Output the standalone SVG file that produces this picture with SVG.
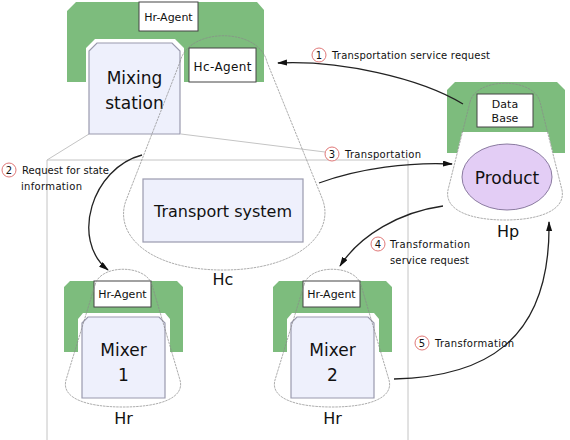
<svg xmlns="http://www.w3.org/2000/svg" width="570" height="440" viewBox="0 0 570 440">
<style>
text{font-family:"DejaVu Sans","Liberation Sans",sans-serif;fill:#111;}
.green{fill:#7dbc7d;stroke:none;}
.agent{fill:#fff;stroke:#444;stroke-width:1;}
.box{fill:#eef0fc;stroke:#9a9aae;stroke-width:1.2;}
.lens{fill:none;stroke:#8a8a8a;stroke-width:0.7;stroke-dasharray:2.5 0.8;}
.guide{fill:none;stroke:#c4c4c4;stroke-width:1;}
.conn{fill:none;stroke:#222;stroke-width:1.3;}
.num{fill:#fff;stroke:#e07878;stroke-width:1;}
.lbl{font-size:10px;}
.c{text-anchor:middle;}
</style>
<defs>
<marker id="arr" markerUnits="userSpaceOnUse" markerWidth="10" markerHeight="8" refX="9" refY="3" orient="auto">
<path d="M0,0 L10,3 L0,6 z" fill="#111"/>
</marker>
</defs>

<g id="guides">
<path class="guide" d="M47,440 L47,160 L408,160 L408,440"/>
<path class="guide" d="M89,134 L47,160"/>
<path class="guide" d="M181,134 L325,152"/>
</g>

<g id="node-mixing-station">
<path class="green" d="M67,11 L76,2 L257,2 L264,10 L264,82 L184,82 L184,48 L175,39 L95,39 L86,48 L86,82 L67,82 Z"/>
<rect class="agent" x="139" y="2" width="59" height="29"/>
<text x="168.5" y="21" font-size="11" class="c">Hr-Agent</text>
<path class="box" d="M89,134 L89,51 L97,43 L172,43 L180,51 L180,134 Z"/>
<text x="134.5" y="84" font-size="17" class="c">Mixing</text>
<text x="134.5" y="109" font-size="17" class="c">station</text>
</g>

<g id="node-transport-system">
<rect class="agent" x="189" y="48" width="67" height="34"/>
<text x="222.5" y="71" font-size="12" class="c" textLength="58">Hc-Agent</text>
<rect class="box" x="143" y="179" width="160" height="63" fill="#e6e6f8"/>
<text x="223" y="217" font-size="16" class="c">Transport system</text>
<path class="lens" d="M180,62 C188,27 259,27 267,62 L322,198 C336,232 300,270 223,270 C146,270 112,232 127,198 Z"/>
<text x="223" y="285" font-size="16" class="c">Hc</text>
</g>

<g id="node-product">
<path class="green" d="M447,90 L455,82 L557,82 L565,90 L565,153 L553,153 L548,132 L462,132 L457,153 L447,153 Z"/>
<rect class="agent" x="477" y="94" width="56" height="33"/>
<text x="505" y="108" font-size="11" class="c">Data</text>
<text x="505" y="122" font-size="11" class="c">Base</text>
<ellipse cx="507" cy="177" rx="45" ry="33" fill="#e3cdf5" stroke="#8a7aa0" stroke-width="1"/>
<text x="507" y="184" font-size="17" class="c">Product</text>
<path class="lens" d="M470,102 C476,77 534,77 540,102 L562,190 C566,210 540,220 505,220 C470,220 444,210 448,190 Z"/>
<text x="508" y="237" font-size="16" class="c">Hp</text>
</g>

<g id="node-mixer1">
<path class="green" d="M64,287 L70,281 L177,281 L183,287 L183,352 L170,352 L170,319 L165,313 L83,313 L78,319 L78,352 L64,352 Z"/>
<rect class="agent" x="94" y="281" width="57" height="26"/>
<text x="122.5" y="298" font-size="11" class="c">Hr-Agent</text>
<path class="box" d="M82,398 L82,323 L88,317 L159,317 L165,323 L165,398 Z"/>
<text x="123.5" y="356" font-size="17" class="c">Mixer</text>
<text x="123.5" y="381" font-size="17" class="c">1</text>
<path class="lens" d="M95,285 C100,264 146,264 152,285 L180,380 C185,398 160,407 123,407 C86,407 61,398 66,380 Z"/>
<text x="123.5" y="424" font-size="16" class="c">Hr</text>
</g>

<g id="node-mixer2">
<path class="green" d="M273,287 L279,281 L386,281 L392,287 L392,352 L379,352 L379,319 L374,313 L292,313 L287,319 L287,352 L273,352 Z"/>
<rect class="agent" x="303" y="281" width="57" height="26"/>
<text x="331.5" y="298" font-size="11" class="c">Hr-Agent</text>
<path class="box" d="M291,398 L291,323 L297,317 L368,317 L374,323 L374,398 Z"/>
<text x="332.5" y="356" font-size="17" class="c">Mixer</text>
<text x="332.5" y="381" font-size="17" class="c">2</text>
<path class="lens" d="M304,285 C309,264 355,264 361,285 L389,380 C394,398 369,407 332,407 C295,407 270,398 275,380 Z"/>
<text x="332.5" y="424" font-size="16" class="c">Hr</text>
</g>

<g id="connectors">
<path class="conn" d="M463,104 C420,78 340,60 278,63" marker-end="url(#arr)"/>
<path class="conn" d="M142,155 C92,168 70,240 108,270" marker-end="url(#arr)"/>
<path class="conn" d="M319,183 C360,168 410,162 452,164" marker-end="url(#arr)"/>
<path class="conn" d="M443,206 C400,212 360,235 340,266" marker-end="url(#arr)"/>
<path class="conn" d="M394,379 C480,377 551,345 549,222" marker-end="url(#arr)"/>
</g>

<g id="labels">
<circle class="num" cx="319" cy="55" r="7"/>
<text x="319" y="59" font-size="10" class="c">1</text>
<text x="332" y="59" class="lbl" textLength="158">Transportation service request</text>

<circle class="num" cx="9" cy="170" r="7"/>
<text x="9" y="174" font-size="10" class="c">2</text>
<text x="22" y="174" class="lbl" textLength="87">Request for state</text>
<text x="21" y="190" class="lbl" textLength="61">information</text>

<circle class="num" cx="332" cy="154" r="7"/>
<text x="332" y="158" font-size="10" class="c">3</text>
<text x="345" y="158" class="lbl" textLength="76">Transportation</text>

<circle class="num" cx="378" cy="244" r="7"/>
<text x="378" y="248" font-size="10" class="c">4</text>
<text x="390" y="248" class="lbl" textLength="80">Transformation</text>
<text x="390" y="264" class="lbl" textLength="79">service request</text>

<circle class="num" cx="422" cy="343" r="7"/>
<text x="422" y="347" font-size="10" class="c">5</text>
<text x="435" y="347" class="lbl" textLength="79">Transformation</text>
</g>
</svg>
